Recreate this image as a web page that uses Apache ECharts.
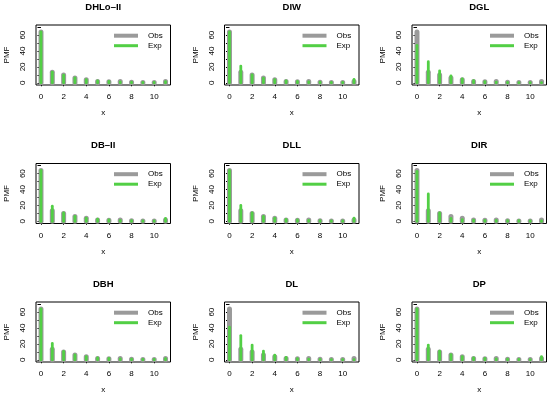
<!DOCTYPE html>
<html>
<head>
<meta charset="utf-8">
<script src="https://cdn.jsdelivr.net/npm/echarts@6/dist/echarts.min.js"></script>
<style>html,body{margin:0;padding:0;background:#fff}#c{width:550px;height:398px}</style>
</head>
<body>
<div id="c"></div>
<script>
// ---- data ----
const xValues = [0,1,2,3,4,5,6,7,8,9,10,11];
const titles = ['DHLo\u2013II','DIW','DGL','DB\u2013II','DLL','DIR','DBH','DL','DP'];
const obs = [64, 13.3, 9.8, 5.9, 3.7, 1.6, 1.2, 1.5, 0.6, 0.5, 0.5, 1.6];
const expDHLoII = [64, 13.5, 9.5, 6, 3.8, 2.4, 1.6, 1.1, 0.8, 0.6, 0.4, 1.4];
const expDIW    = [64, 21, 10, 5.8, 3.8, 2.5, 1.7, 1.2, 0.8, 0.6, 0.5, 4.2];
const expDGL    = [47, 26.5, 15, 8.8, 4.8, 2.6, 1.5, 0.9, 0.5, 0.3, 0.2, 0.3];
const expDBII   = [64, 19, 10.5, 6, 3.9, 2.6, 1.8, 1.2, 0.9, 0.6, 0.5, 3.6];
const expDLL    = [64, 20, 10.5, 6, 3.8, 2.5, 1.7, 1.2, 0.8, 0.6, 0.4, 4];
const expDIR    = [63, 34.5, 10.5, 3.5, 2, 1.5, 1.2, 1, 0.8, 0.7, 0.6, 0.5];
const expDBH    = [64, 20.5, 10.5, 6, 3.8, 2.5, 1.7, 1.1, 0.8, 0.5, 0.4, 1.5];
const expDL     = [41, 30.5, 18.5, 11, 5.8, 3, 1.5, 0.8, 0.4, 0.2, 0.1, 0.1];
const expDP     = [64, 18.5, 11, 6.5, 4, 2.5, 1.6, 1, 0.7, 0.5, 0.3, 3.8];
const expAll = [expDHLoII, expDIW, expDGL, expDBII, expDLL, expDIR, expDBH, expDL, expDP];
const xTickLabels = [0,2,4,6,8,10];
const yTicks = [0,10,20,30,40,50,60,70];
const yTickLabels = [0,20,40,60];

// ---- layout / style ----
const colLeft = [36, 224.5, 412];
const rowTop = [25, 163.5, 302];
const boxW = 134.5, boxH = 60;
const GRAY = '#9a9a9a', GREEN = '#52cf45';
const FONT = 'Liberation Sans, Arial, Helvetica, sans-serif';

const grid = [], xAxis = [], yAxis = [], series = [], title = [], legend = [];
for (let i = 0; i < 9; i++) {
  const r = Math.floor(i / 3), c = i % 3;
  const L = colLeft[c], T = rowTop[r];
  grid.push({left: L, top: T, width: boxW, height: boxH, show: true, borderColor: '#000', borderWidth: 1, backgroundColor: 'transparent'});
  xAxis.push({
    type: 'value', gridIndex: i, min: -0.44, max: 11.44,
    name: 'x', nameLocation: 'middle', nameGap: 24,
    nameTextStyle: {fontFamily: FONT, fontSize: 8, color: '#000'},
    axisLine: {show: false}, splitLine: {show: false},
    axisTick: {show: true, customValues: xTickLabels, length: 3.5, lineStyle: {color: '#000'}},
    axisLabel: {customValues: xTickLabels, margin: 8, fontFamily: FONT, fontSize: 8, color: '#000'}
  });
  yAxis.push({
    type: 'value', gridIndex: i, min: -2.8, max: 72.8,
    name: 'PMF', nameLocation: 'middle', nameGap: 25, nameRotate: 90,
    nameTextStyle: {fontFamily: FONT, fontSize: 8, color: '#000'},
    axisLine: {show: false}, splitLine: {show: false},
    axisTick: {show: true, customValues: yTicks, length: 3.5, lineStyle: {color: '#000'}},
    axisLabel: {customValues: yTickLabels, rotate: 90, margin: 9, fontFamily: FONT, fontSize: 8, color: '#000'}
  });
  const mk = (name, vals, color, lw) => ({
    type: 'custom', name: name, xAxisIndex: i, yAxisIndex: i,
    itemStyle: {color: color},
    data: xValues.map((x, k) => [x, vals[k]]),
    renderItem: function (params, api) {
      const p0 = api.coord([api.value(0), 0]);
      const p1 = api.coord([api.value(0), api.value(1)]);
      return {type: 'line', shape: {x1: p0[0], y1: p0[1], x2: p1[0], y2: p1[1]},
              style: {stroke: color, lineWidth: lw, lineCap: 'round'}};
    }
  });
  series.push(mk('Obs', obs, GRAY, 5));
  series.push(mk('Exp', expAll[i], GREEN, 2.8));
  title.push({text: titles[i], left: L + boxW / 2, top: T - 23, textAlign: 'center', padding: 0,
    textStyle: {fontFamily: FONT, fontSize: 9.5, fontWeight: 'bold', color: '#000'}});
  legend.push({
    orient: 'vertical', left: L + 78, top: T + 5.7, padding: 0, itemGap: 0,
    itemWidth: 24, itemHeight: 4, selectedMode: false,
    textStyle: {fontFamily: FONT, fontSize: 8, lineHeight: 10, color: '#000', padding: [0, 0, 0, 5]},
    data: [
      {name: 'Obs', icon: 'path://M0,0H24V4H0Z', itemStyle: {color: GRAY}},
      {name: 'Exp', icon: 'path://M0,0H24V3H0Z', itemStyle: {color: GREEN}}
    ]
  });
}
const chart = echarts.init(document.getElementById('c'), null, {renderer: 'canvas'});
chart.setOption({animation: false, backgroundColor: '#fff', title, legend, grid, xAxis, yAxis, series});
</script>
</body>
</html>
